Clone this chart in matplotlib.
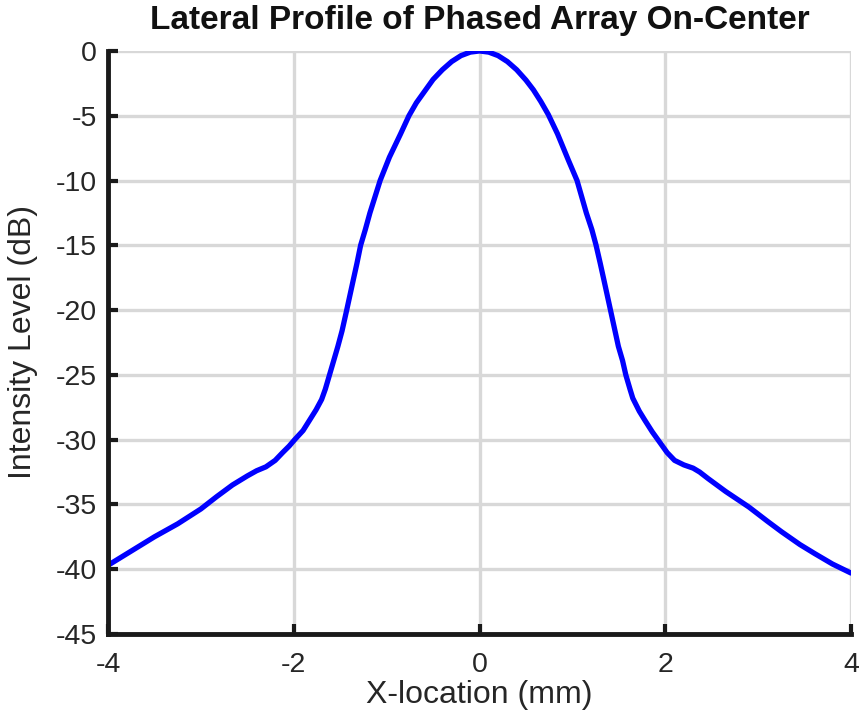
import matplotlib
matplotlib.use("Agg")
import matplotlib.pyplot as plt

plt.rcParams['font.family'] = ['Liberation Sans', 'DejaVu Sans']
plt.rcParams['axes.unicode_minus'] = False

x_mm = [-4.0, -3.75, -3.5, -3.25, -3.0, -2.83, -2.66, -2.5, -2.4, -2.3, -2.2,
        -2.12, -2.05, -1.99, -1.9, -1.83, -1.76, -1.70, -1.66, -1.615, -1.57,
        -1.525, -1.48, -1.43, -1.36, -1.32, -1.28, -1.23, -1.18, -1.07, -0.97,
        -0.85, -0.76, -0.68, -0.6, -0.5, -0.4, -0.3, -0.2, -0.1, 0.0,
        0.1, 0.2, 0.3, 0.4, 0.5, 0.58, 0.66, 0.74, 0.84, 0.955, 1.05, 1.15,
        1.21, 1.255, 1.30, 1.34, 1.41, 1.495, 1.54, 1.575, 1.62, 1.65, 1.72,
        1.78, 1.86, 1.94, 2.02, 2.10, 2.2, 2.3, 2.37, 2.46, 2.65, 2.9, 3.1,
        3.25, 3.45, 3.61, 3.8, 4.0]
intensity_db = [-39.7, -38.6, -37.5, -36.5, -35.35, -34.4, -33.5, -32.8, -32.4,
                -32.1, -31.6, -31.0, -30.5, -30.0, -29.3, -28.5, -27.7, -26.9,
                -26.1, -25.0, -23.9, -22.8, -21.6, -20.0, -17.7, -16.4, -15.0,
                -13.8, -12.5, -10.0, -8.2, -6.4, -5.0, -4.0, -3.2, -2.2, -1.45,
                -0.82, -0.36, -0.09, 0.0,
                -0.09, -0.36, -0.82, -1.45, -2.25, -3.0, -3.9, -4.9, -6.4, -8.4,
                -10.0, -12.5, -13.8, -15.0, -16.4, -17.7, -20.0, -22.8, -23.9,
                -25.0, -26.1, -26.8, -27.8, -28.5, -29.4, -30.2, -31.0, -31.6,
                -31.95, -32.2, -32.5, -33.0, -34.0, -35.2, -36.3, -37.1, -38.1,
                -38.8, -39.6, -40.3]

x_ticks = [-4, -2, 0, 2, 4]
y_ticks = [0, -5, -10, -15, -20, -25, -30, -35, -40, -45]

fig = plt.figure(figsize=(8.64, 7.21), dpi=100)
ax = fig.add_axes([0.125, 0.1207, 0.860, 0.8086])

ax.plot(x_mm, intensity_db, color=(0, 0, 1), linewidth=3.8,
        solid_capstyle='round', solid_joinstyle='round')

ax.set_xlim(-4, 4)
ax.set_ylim(-45, 0)
ax.set_xticks(x_ticks)
ax.set_yticks(y_ticks)
ax.set_xticklabels([str(t) for t in x_ticks])
ax.set_yticklabels([str(t) for t in y_ticks])

ax.grid(True, color='#d8d8d8', linewidth=2.4)
ax.set_axisbelow(True)
for s in ['top', 'right']:
    ax.spines[s].set_visible(False)
for s in ['left', 'bottom']:
    ax.spines[s].set_linewidth(3.5)
    ax.spines[s].set_color('#1a1a1a')
ax.tick_params(direction='in', length=7, width=3, colors='#1a1a1a',
               labelsize=20.5, labelcolor='#262626')
ax.tick_params(axis='x', pad=13)
ax.tick_params(axis='y', pad=8)

ax.set_xlabel('X-location (mm)', fontsize=23, color='#262626')
ax.set_ylabel('Intensity Level (dB)', fontsize=23, color='#262626')
ax.xaxis.set_label_coords(0.5, -0.079)
ax.yaxis.set_label_coords(-0.094, 0.5)
ax.set_title('Lateral Profile of Phased Array On-Center', fontsize=24,
             fontweight='bold', color='#111111', pad=16)

fig.savefig('out.png', dpi=100)
